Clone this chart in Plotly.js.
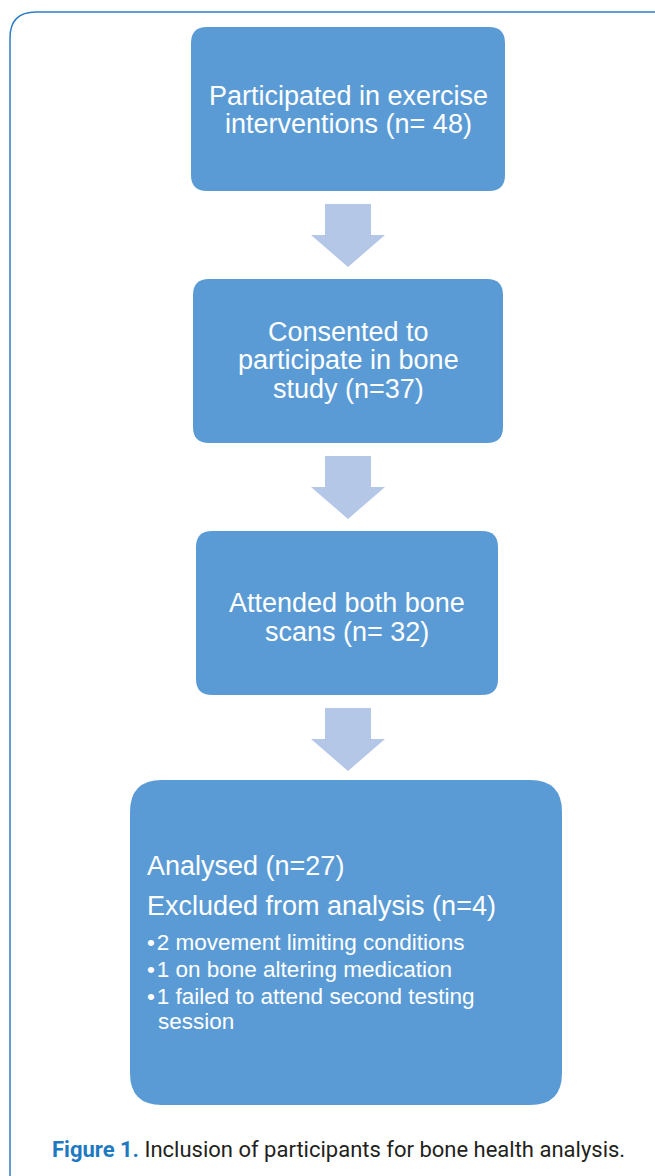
<!DOCTYPE html>
<html>
<head>
<meta charset="utf-8">
<script src="https://cdn.plot.ly/plotly-3.0.1.min.js"></script>
<style>html,body{margin:0;padding:0;background:#fff;}#chart{width:655px;height:1176px;}</style>
</head>
<body>
<div id="chart"></div>
<script>
// ---- data ----
const stageTemplates = [
  ["Participated in exercise", "interventions (n= {n})"],
  ["Consented to", "participate in bone", "study (n={n})"],
  ["Attended both bone", "scans (n= {n})"]
];
const stageCounts = [48, 37, 32];
const analysedLabel = "Analysed (n={n})";
const analysedCount = 27;
const excludedLabel = "Excluded from analysis (n={n})";
const excludedCount = 4;
const exclusionCounts = [2, 1, 1];
const exclusionReasons = [
  ["movement limiting conditions"],
  ["on bone altering medication"],
  ["failed to attend second testing", "session"]
];
const captionBold = "Figure 1.";
const captionText = "Inclusion of participants for bone health analysis.";

// ---- layout constants ----
const W = 655, H = 1176;
const BOX = "#5B9BD5", ARROW = "#B4C7E7", FRAME = "#2E7DC4";
const FONT = "Liberation Sans, Arial, sans-serif";
const stageBoxes = [
  {x0:191, x1:505, y0:27,  y1:191, tc:110},
  {x0:193, x1:503, y0:279, y1:443, tc:360},
  {x0:196, x1:498, y0:531, y1:695, tc:617.5}
];
const finalBox = {x0:130, x1:562, y0:780, y1:1105};
const arrowTops = [204, 456, 708];

function rrect(x0, y0, x1, y1, r) {
  return `M${x0+r},${y0} L${x1-r},${y0} Q${x1},${y0} ${x1},${y0+r} L${x1},${y1-r} Q${x1},${y1} ${x1-r},${y1} ` +
         `L${x0+r},${y1} Q${x0},${y1} ${x0},${y1-r} L${x0},${y0+r} Q${x0},${y0} ${x0+r},${y0} Z`;
}
function downArrow(cx, top) {
  const sw = 23, hw = 37, shaftLen = 31, headLen = 32;
  const yb = top + shaftLen, yt = yb + headLen;
  return `M${cx-sw},${top} L${cx+sw},${top} L${cx+sw},${yb} L${cx+hw},${yb} L${cx},${yt} L${cx-hw},${yb} L${cx-sw},${yb} Z`;
}

const shapes = [];
const annotations = [];

// outer frame
shapes.push({type:"path", xref:"x", yref:"y",
  path:`M10,1200 L10,38 Q10,12 36,12 L700,12`,
  line:{color:FRAME, width:1.5}, fillcolor:"rgba(0,0,0,0)"});

stageBoxes.forEach((b, i) => {
  shapes.push({type:"path", xref:"x", yref:"y", path:rrect(b.x0,b.y0,b.x1,b.y1,16),
    fillcolor:BOX, line:{width:0}, layer:"below"});
  const lines = stageTemplates[i].map(s => s.replace("{n}", stageCounts[i]));
  const lh = 28.5;
  const start = b.tc - (lines.length-1)*lh/2;
  lines.forEach((t, k) => {
    annotations.push({x:(b.x0+b.x1)/2, y:start + k*lh, xref:"x", yref:"y", text:t,
      showarrow:false, xanchor:"center", yanchor:"middle",
      font:{family:FONT, size:27, color:"#ffffff"}});
  });
});

arrowTops.forEach(t => {
  shapes.push({type:"path", xref:"x", yref:"y", path:downArrow(348, t),
    fillcolor:ARROW, line:{width:0}, layer:"below"});
});

shapes.push({type:"path", xref:"x", yref:"y",
  path:rrect(finalBox.x0, finalBox.y0, finalBox.x1, finalBox.y1, 32),
  fillcolor:BOX, line:{width:0}, layer:"below"});

annotations.push({x:145, y:866, xref:"x", yref:"y", text:analysedLabel.replace("{n}", analysedCount),
  showarrow:false, xanchor:"left", yanchor:"middle", font:{family:FONT, size:27, color:"#ffffff"}});
annotations.push({x:145, y:906, xref:"x", yref:"y", text:excludedLabel.replace("{n}", excludedCount),
  showarrow:false, xanchor:"left", yanchor:"middle", font:{family:FONT, size:27, color:"#ffffff"}});

let by = 942;
exclusionReasons.forEach((lines, i) => {
  lines.forEach((t, k) => {
    const txt = k === 0 ? `\u2022\u200A${exclusionCounts[i]} ${t}` : t;
    annotations.push({x: k === 0 ? 145 : 156, y:by, xref:"x", yref:"y", text:txt,
      showarrow:false, xanchor:"left", yanchor:"middle", font:{family:FONT, size:22.5, color:"#ffffff"}});
    by += (k === lines.length-1 && i < exclusionReasons.length-1) ? 27 : 25.5;
  });
});

annotations.push({x:50, y:1149, xref:"x", yref:"y",
  text:`<b><span style="color:#1E78C2">${captionBold}</span></b> ${captionText}`,
  showarrow:false, xanchor:"left", yanchor:"middle",
  font:{family:"Roboto, sans-serif", size:22, color:"#231F20"}});

const layout = {
  width:W, height:H, margin:{l:0, r:0, t:0, b:0},
  paper_bgcolor:"#ffffff", plot_bgcolor:"#ffffff",
  xaxis:{range:[0, W], visible:false, fixedrange:true},
  yaxis:{range:[H, 0], visible:false, fixedrange:true},
  showlegend:false, shapes, annotations
};
Plotly.newPlot("chart", [{x:[], y:[], type:"scatter", mode:"markers", hoverinfo:"skip"}], layout, {staticPlot:true, displayModeBar:false});
</script>
</body>
</html>
